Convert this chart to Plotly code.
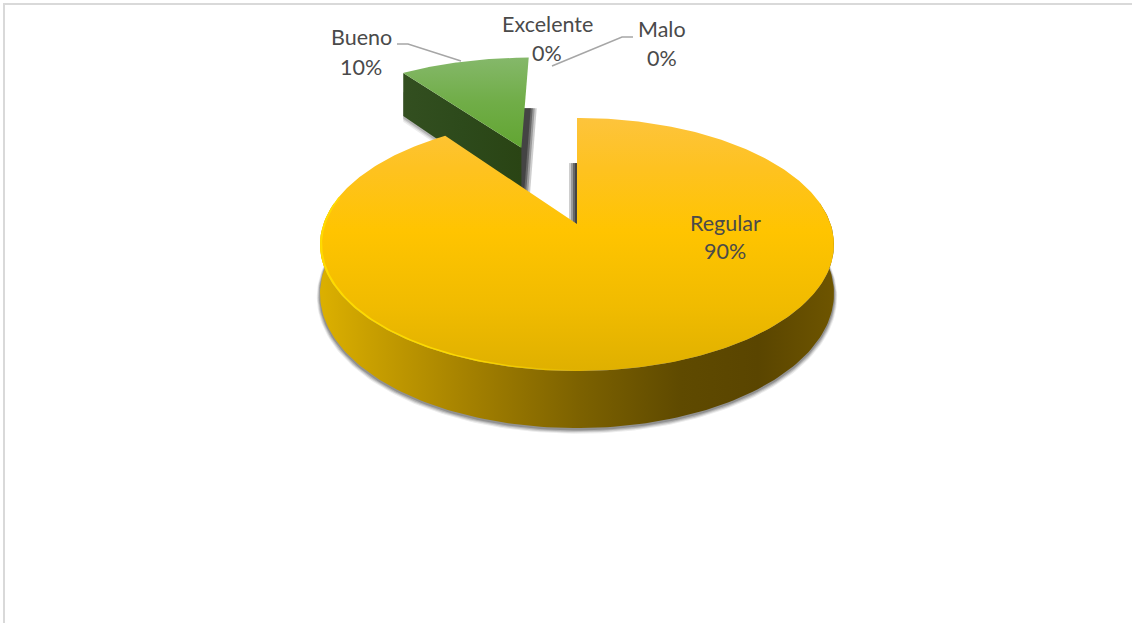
import numpy as np
import plotly.graph_objects as go

# Survey results, in clockwise order starting from twelve o'clock
categories = ["Regular", "Bueno", "Excelente", "Malo"]
values = [90, 10, 0, 0]
explode = [0.0, 0.73, 0.0, 0.0]
explode_tilt = [0.0, -1.5, 0.0, 0.0]
slice_scale = [1.0, 1.04, 1.0, 1.0]

# Label anchors (x, y of first line, y of second line) in page pixels
label_pos = {
    "Regular": (725, 223, 251),
    "Bueno": (361, 37, 67),
    "Excelente": (547, 24, 53),
    "Malo": (662, 29, 58),
}

# Leader lines for the small slices
leader_x = {"Bueno": [397, 408, 461], "Malo": [633, 622, 552]}
leader_y = {"Bueno": [44, 44, 61], "Malo": [37, 37, 66]}

# Perspective disc model
CX, CY, R, K, P, DEPTH = 577.0, 224.0, 253.6, 0.486, 0.162, 47.8


def project(u, v, drop=0.0):
    u, v = np.asarray(u, float), np.asarray(v, float)
    s = 1 / (1 - P * v)
    return CX + R * u * s, CY + R * K * v * s + drop * s


def rim(start, stop, r=1.0, off=(0.0, 0.0), n=160):
    t = np.radians(np.linspace(start, stop, n))
    return off[0] + r * np.sin(t), off[1] - r * np.cos(t)


def offset_of(angle, amount):
    t = np.radians(angle)
    return amount * np.sin(t), -amount * np.cos(t)


fig = go.Figure()


def poly(x, y, color=None, gradient=None):
    kw = dict(fillgradient=gradient) if gradient else dict(fillcolor=color)
    fig.add_trace(go.Scatter(x=np.asarray(x), y=np.asarray(y), mode="lines", fill="toself",
                             line=dict(width=0), hoverinfo="skip", showlegend=False, **kw))


def hgrad(stops, x0, x1):
    return dict(type="horizontal", colorscale=stops, start=x0, stop=x1)


def vgrad(stops, y0, y1):
    return dict(type="vertical", colorscale=stops, start=y0, stop=y1)


# Slice angles from the values
total = sum(values)
edges = np.cumsum([0] + values) * 360 / total
span = {c: (edges[i], edges[i + 1]) for i, c in enumerate(categories)}
shift = {c: offset_of((span[c][0] + span[c][1]) / 2 + explode_tilt[i], explode[i])
         for i, c in enumerate(categories)}

# --- Exploded green slice ---
a0, a1 = span["Bueno"]
off = shift["Bueno"]
scale = slice_scale[categories.index("Bueno")]
corner_u, corner_v = rim(a0, a0, r=scale, off=off, n=2)
WALL = DEPTH + 6

# soft shadow under its side wall
wu = np.array([corner_u[0], off[0]])
wv = np.array([corner_v[0], off[1]])
for grow, alpha in [(7, 0.10), (5, 0.14), (3, 0.22)]:
    xb, yb = project(wu, wv, WALL + grow)
    xt, yt = project(wu, wv, DEPTH * 0.5)
    poly(np.r_[xt, xb[::-1]], np.r_[yt, yb[::-1]], color=f"rgba(70,70,70,{alpha})")

# strip of shade to the right of the slice
ru, rv = rim(a1, a1, r=scale, off=off, n=2)
eu = np.array([ru[0], off[0]])
ev = np.array([rv[0], off[1]])
xb, yb = project(eu, ev, WALL + 6)
yb[0] += 4
for width, alpha in [(8, 0.25), (6, 0.35), (4, 0.55), (2, 0.8)]:
    poly(np.r_[xb - 5, xb[::-1] + width], np.r_[yb, yb[::-1]], color=f"rgba(60,60,60,{alpha})")

# dark side wall
xt, yt = project(wu, wv, 0)
xb, yb = project(wu, wv, WALL)
poly(np.r_[xt, xb[::-1]], np.r_[yt, yb[::-1]],
     gradient=hgrad([[0, "#334f20"], [0.5, "#2d4a1b"], [1, "#2a4414"]], xt.min(), xt.max()))

# green top face
ru, rv = rim(a0, a1, r=scale, off=off)
xg, yg = project(np.r_[off[0], ru], np.r_[off[1], rv])
poly(xg, yg, gradient=vgrad([[0, "#85b86a"], [0.5, "#70ad47"], [1, "#62a532"]], yg.min(), yg.max()))

# --- Main yellow slice ---
a0, a1 = span["Regular"]

# blurred shadow around the front of the disc
for grow, alpha in [(1.012, 0.10), (1.009, 0.16), (1.006, 0.22), (1.003, 0.30)]:
    ru, rv = rim(80, 280, r=grow)
    xs, ys = project(ru, rv, DEPTH + (grow - 1) * 150 + 1)
    poly(xs, ys, color=f"rgba(70,70,70,{alpha})")

# shade strip inside the notch, along the slice's starting edge
ru, rv = rim(a0, a0, n=2)
eu = np.array([ru[0], 0.0])
ev = np.array([rv[0], 0.0])
xb, yb = project(eu, ev, DEPTH)
yb[0] += 4
yb[1] = CY
for width, alpha in [(8, 0.25), (6, 0.35), (4, 0.55), (2, 0.8)]:
    poly(np.r_[xb + 1, xb[::-1] - width], np.r_[yb, yb[::-1]], color=f"rgba(60,60,60,{alpha})")

# front wall of the disc
ru, rv = rim(80, 280)
xt, yt = project(ru, rv)
xb, yb = project(ru, rv, DEPTH)
poly(np.r_[xt, xb[::-1]], np.r_[yt, yb[::-1]],
     gradient=hgrad([[0, "#dcb000"], [0.1, "#c89f00"], [0.3, "#a27f00"], [0.5, "#7d6200"],
                     [0.7, "#5f4a00"], [0.85, "#5a4500"], [1, "#6e5500"]], 320, 835))

# yellow top face
ru, rv = rim(a0, a1, n=400)
xr, yr = project(np.r_[0.0, ru], np.r_[0.0, rv])
poly(xr, yr, gradient=vgrad([[0, "#fdc43c"], [0.2, "#fec220"], [0.45, "#ffc400"],
                             [0.75, "#f0bb00"], [1, "#dfb000"]], yr.min(), yr.max()))

# bright bevel along the left of the rim
ru, rv = rim(175, 283)
ru2, rv2 = rim(175, 283, r=0.992)
xa, ya = project(ru, rv)
xc, yc = project(ru2, rv2)
poly(np.r_[xa, xc[::-1]], np.r_[ya, yc[::-1]],
     gradient=hgrad([[0, "rgba(255,222,0,0.9)"], [0.55, "rgba(255,222,0,0.9)"],
                     [1, "rgba(255,222,0,0.0)"]], 320, 590))

# Leader lines
for name in leader_x:
    fig.add_trace(go.Scatter(x=leader_x[name], y=leader_y[name], mode="lines",
                             line=dict(color="#a6a6a6", width=1.5), hoverinfo="skip", showlegend=False))

# Category and percentage labels
for cat, val in zip(categories, values):
    lx, ly1, ly2 = label_pos[cat]
    for text, ly in ((cat, ly1), (f"{val}%", ly2)):
        fig.add_annotation(x=lx, y=ly, text=text, showarrow=False, xanchor="center", yanchor="middle",
                           font=dict(family="Lato", size=21.5, color="#4a4a4a"))

# Chart frame: only the top and left edges fall inside the page
frame = dict(type="line", line=dict(color="#d9d9d9", width=2), layer="below")
fig.add_shape(x0=3, x1=1132, y0=4, y1=4, **frame)
fig.add_shape(x0=4, x1=4, y0=3, y1=623, **frame)

fig.update_layout(
    width=1132, height=623, margin=dict(l=0, r=0, t=0, b=0),
    paper_bgcolor="white", plot_bgcolor="white", showlegend=False,
    xaxis=dict(range=[0, 1132], visible=False, fixedrange=True),
    yaxis=dict(range=[623, 0], visible=False, fixedrange=True),
)
fig.write_html("out.html", config=dict(displayModeBar=False))
